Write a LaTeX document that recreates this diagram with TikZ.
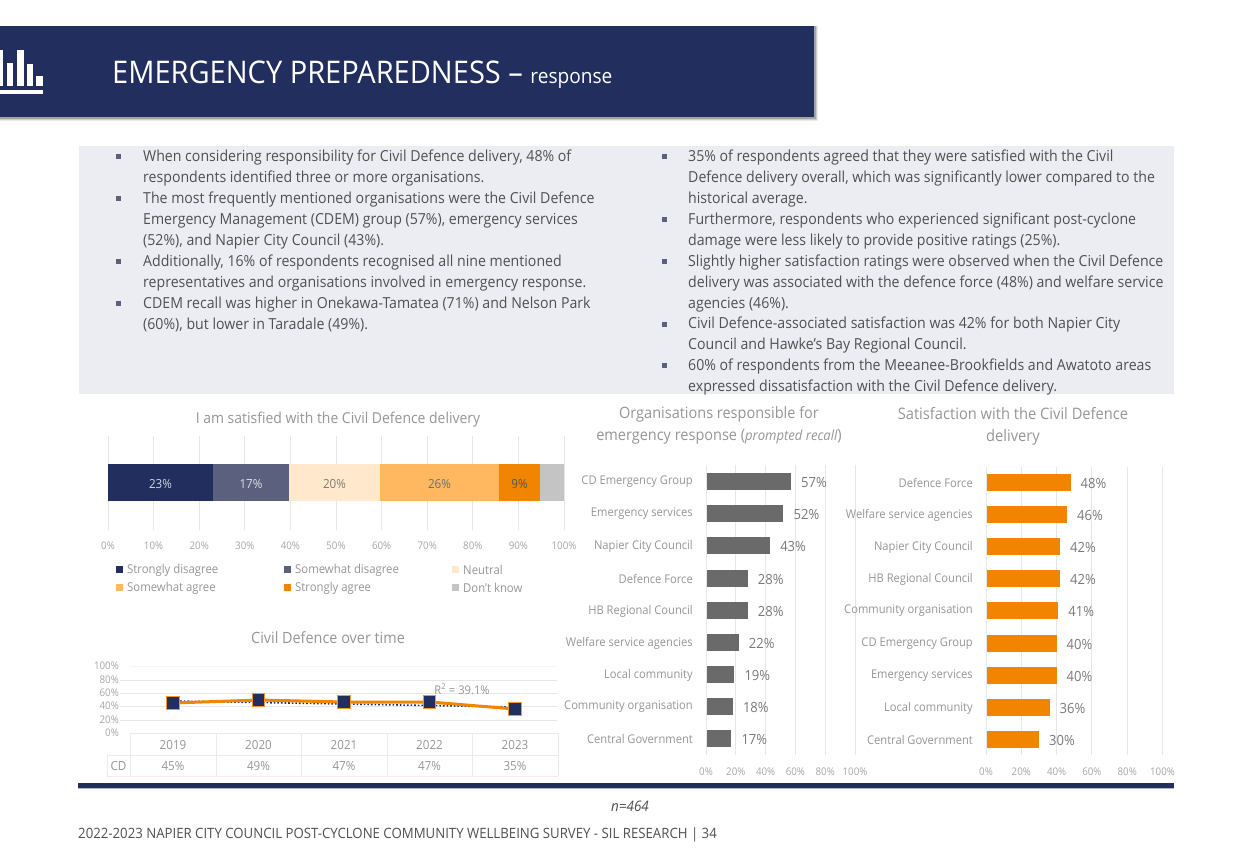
\documentclass[tikz,border=0pt]{standalone}
\usepackage{fontspec}
\setmainfont[FakeStretch=0.93]{Open Sans}
\definecolor{navy}{HTML}{222F5E}
\definecolor{slate}{HTML}{5B607F}
\definecolor{cream}{HTML}{FFE8CC}
\definecolor{lorange}{HTML}{FFB85F}
\definecolor{dorange}{HTML}{F28500}
\definecolor{lgrey}{HTML}{C4C4C4}
\definecolor{panel}{HTML}{ECEDF3}
\definecolor{gridc}{HTML}{E6E6E6}
\definecolor{labc}{HTML}{969696}
\definecolor{valc}{HTML}{7A7A7A}
\definecolor{barg}{HTML}{6A6A6A}
\definecolor{bodyc}{HTML}{505050}
\newcommand{\fsz}[1]{\fontsize{#1}{#1}\selectfont}
\tikzset{
  gridl/.style={draw=gridc,line width=1pt},
  axislab/.style={text=labc!85,font=\fsz{10.5},inner sep=0pt},
  catlab/.style={text=labc,font=\fsz{12},inner sep=0pt,anchor=east},
  vallab/.style={text=valc,font=\fsz{14},inner sep=0pt,anchor=west},
  charttitle/.style={text=labc,font=\fsz{15},inner sep=0pt},
  bodytext/.style={text=bodyc,font=\fontsize{15.2}{20.9}\selectfont,align=left,anchor=north west,inner sep=0pt},
  bulletm/.style={fill=slate,minimum size=5pt,inner sep=0pt},
  seglab/.style={font=\fsz{12.5},inner sep=0pt},
  leglab/.style={text=labc,font=\fsz{12.2},inner sep=0pt,anchor=west},
  legsq/.style={minimum size=7pt,inner sep=0pt},
  tabc/.style={text=labc,font=\fsz{12.5},inner sep=0pt},
  tabl/.style={draw=gridc!80,line width=1pt},
  marker/.style={fill=navy,draw=dorange!85,line width=1pt,minimum size=12.5pt,inner sep=0pt}
}
\begin{document}
\begin{tikzpicture}[x=1pt,y=-1pt]
\useasboundingbox (0,0) rectangle (1250,863);
\fill[white] (0,0) rectangle (1250,863);
% banner
\fill[black,opacity=.08] (0,26) rectangle (817.5,120.5);
\fill[black,opacity=.12] (0,26) rectangle (816.5,119.5);
\fill[black,opacity=.2] (0,26) rectangle (815.5,118.5);
\fill[navy] (0,26) rectangle (814,117);
\fill[white] (0,50) rectangle (3,86);
\fill[white] (7,63) rectangle (13,86);
\fill[white] (17,50) rectangle (24,86);
\fill[white] (27,64) rectangle (33,86);
\fill[white] (36,76) rectangle (43,86);
\fill[white] (0,90) rectangle (43,94);
\node[anchor=base west,inner sep=0pt,text=white] (head) at (112,83) {\fsz{31.2}EMERGENCY PREPAREDNESS – \fsz{20.5}response};
% panels
\fill[panel] (79,146) rectangle (1174,394);
% left bullets
\foreach \y in {156,198,261,303} \node[bulletm] at (118,\y) {};
\node[bodytext] (l1) at (143,147) {\strut When considering responsibility for Civil Defence delivery, 48\% of\\respondents identified three or more organisations.};
\node[bodytext] (l2) at (143,189) {\strut The most frequently mentioned organisations were the Civil Defence\\Emergency Management (CDEM) group (57\%), emergency services\\(52\%), and Napier City Council (43\%).};
\node[bodytext] (l3) at (143,252) {\strut Additionally, 16\% of respondents recognised all nine mentioned\\representatives and organisations involved in emergency response.};
\node[bodytext] (l4) at (143,294) {\strut CDEM recall was higher in Onekawa-Tamatea (71\%) and Nelson Park\\(60\%), but lower in Taradale (49\%).};
% right bullets
\foreach \y in {156,219,261,324,365} \node[bulletm] at (664,\y) {};
\node[bodytext] (r1) at (688,147) {\strut 35\% of respondents agreed that they were satisfied with the Civil\\Defence delivery overall, which was significantly lower compared to the\\historical average.};
\node[bodytext] (r2) at (688,210) {\strut Furthermore, respondents who experienced significant post-cyclone\\damage were less likely to provide positive ratings (25\%).};
\node[bodytext] (r3) at (688,252) {\strut Slightly higher satisfaction ratings were observed when the Civil Defence\\delivery was associated with the defence force (48\%) and welfare service\\agencies (46\%).};
\node[bodytext] (r4) at (688,314) {\strut Civil Defence-associated satisfaction was 42\% for both Napier City\\Council and Hawke’s Bay Regional Council.};
\node[bodytext] (r5) at (688,356) {\strut 60\% of respondents from the Meeanee-Brookfields and Awatoto areas\\expressed dissatisfaction with the Civil Defence delivery.};
% chart 1
\node[charttitle] (t1) at (338,420) {I am satisfied with the Civil Defence delivery};
\foreach \i in {0,...,10} {
  \pgfmathsetmacro{\xx}{108+45.6*\i}
  \pgfmathtruncatemacro{\pp}{\i*10}
  \draw[gridl] (\xx,436) -- (\xx,530);
  \node[axislab] (ax\i) at (\xx,546) {\pp\%};
}
\fill[navy] (108,464) rectangle (213,501);
\fill[slate] (213,464) rectangle (289,501);
\fill[cream] (289,464) rectangle (380,501);
\fill[lorange] (380,464) rectangle (499,501);
\fill[dorange] (499,464) rectangle (540,501);
\fill[lgrey] (540,464) rectangle (564,501);
\node[seglab,text=white!80!navy] (s1) at (160.5,484) {23\%};
\node[seglab,text=white!80!slate] (s2) at (251,484) {17\%};
\node[seglab,text=valc] (s3) at (334.5,484) {20\%};
\node[seglab,text=valc!90!black] (s4) at (439.5,484) {26\%};
\node[seglab,text=valc!70!black] (s5) at (519.5,484) {9\%};
\node[legsq,fill=navy] at (119.5,569) {};
\node[leglab] at (127,570) {Strongly disagree};
\node[legsq,fill=slate] at (287.5,569) {};
\node[leglab] at (295,570) {Somewhat disagree};
\node[legsq,fill=cream] at (455.5,569) {};
\node[leglab] at (463,570) {Neutral};
\node[legsq,fill=lorange] at (119.5,587) {};
\node[leglab] at (127,588) {Somewhat agree};
\node[legsq,fill=dorange] at (287.5,587) {};
\node[leglab] at (295,588) {Strongly agree};
\node[legsq,fill=lgrey] at (455.5,587) {};
\node[leglab] at (463,588) {Don't know};
% chart 2
\node[charttitle,font=\fsz{15.5}] (t2) at (328,638) {Civil Defence over time};
\draw[gridl,draw=gridc!40] (130,666) -- (557,666);
\foreach \y in {680,693,706,720} \draw[gridl] (120,\y) -- (557,\y);
\foreach \y/\l in {666/100,680/80,693/60,706/40,720/20,733/0}
  \node[axislab,anchor=east] at (119,\y) {\l\%};
\node[inner sep=0pt,text=labc,font=\fsz{12}] (r2lab) at (462,689) {R\textsuperscript{2} = 39.1\%};
\coordinate (ta) at (173,701);
\coordinate (tb) at (515,707);
\draw[navy,line width=1.6pt,dotted] (ta) -- (tb);
\coordinate (p1) at (173,703);
\coordinate (p2) at (258.5,700);
\coordinate (p3) at (344,702);
\coordinate (p4) at (429.5,702);
\coordinate (p5) at (515,709);
\draw[dorange,line width=3pt] (p1) -- (p2) -- (p3) -- (p4) -- (p5);
\foreach \i in {1,...,5} \node[marker] (m\i) at (p\i) {};
% table
\draw[tabl] (130,733) -- (558,733) (107,755) -- (558,755) (107,776) -- (558,776);
\draw[tabl] (107,755) -- (107,776);
\foreach \x in {130,216,301,387,472,558} \draw[tabl] (\x,733) -- (\x,776);
\foreach \x/\a/\b in {173/2019/45,258.5/2020/49,344/2021/47,429.5/2022/47,515/2023/35} {
  \node[tabc] at (\x,745) {\a};
  \node[tabc] at (\x,766.5) {\b\%};
}
\node[tabc] at (118.5,766.5) {CD};
% chart 3
\node[charttitle,align=center,font=\fontsize{15.6}{22}\selectfont] (t3) at (719,425.5) {Organisations responsible for\\emergency response ({\fontspec[FakeStretch=0.93,Scale=0.9]{Open Sans}\itshape prompted recall})};
\foreach \i/\p in {0/0,1/20,2/40,3/60,4/80,5/100} {
  \pgfmathsetmacro{\xx}{706+29.8*\i}
  \draw[gridl] (\xx,465) -- (\xx,755);
  \node[axislab] (bx\i) at (\xx,771.5) {\p\%};
}
\foreach \n/\v/\c/\y in {1/57/CD Emergency Group/481,2/52/Emergency services/513,3/43/Napier City Council/545,4/28/Defence Force/578,5/28/HB Regional Council/610,6/22/Welfare service agencies/642,7/19/Local community/674,8/18/Community organisation/706,9/17/Central Government/738} {
  \pgfmathsetmacro{\xe}{706+1.49*\v}
  \fill[barg] (706.5,\y-8.5) rectangle (\xe,\y+8.5);
  \node[catlab] (bc\n) at (693,\y+1) {\c};
  \node[vallab] (bv\n) at (\xe+10,\y+1) {\v\%};
}
% chart 4
\node[charttitle,align=center,font=\fontsize{15.8}{22}\selectfont] (t4) at (1013,426.5) {Satisfaction with the Civil Defence\\delivery};
\foreach \i/\p in {0/0,1/20,2/40,3/60,4/80,5/100} {
  \pgfmathsetmacro{\xx}{986+35.3*\i}
  \draw[gridl] (\xx,467) -- (\xx,755);
  \node[axislab] (cx\i) at (\xx,771.5) {\p\%};
}
\foreach \n/\v/\c/\y in {1/48/Defence Force/482,2/46/Welfare service agencies/514,3/42/Napier City Council/546,4/42/HB Regional Council/578,5/41/Community organisation/610,6/40/CD Emergency Group/643,7/40/Emergency services/675,8/36/Local community/707,9/30/Central Government/739} {
  \pgfmathsetmacro{\xe}{986.5+1.75*\v}
  \fill[dorange] (986.5,\y-8.5) rectangle (\xe,\y+8.5);
  \node[catlab] (cc\n) at (973,\y+1) {\c};
  \node[vallab] (cv\n) at (\xe+10,\y+1) {\v\%};
}
% footer
\fill[navy] (78,783) rectangle (1174,788);
\fill[panel!70!navy] (78,788) rectangle (1174,789);
\node[inner sep=0pt,text=bodyc,font=\fsz{14.5}\itshape] (n) at (630,806) {n=464};
\node[inner sep=0pt,anchor=west,text=bodyc,font=\fsz{14.2}] (foot) at (78,835) {2022-2023 NAPIER CITY COUNCIL POST-CYCLONE COMMUNITY WELLBEING SURVEY - SIL RESEARCH | 34};
\end{tikzpicture}
\end{document}
